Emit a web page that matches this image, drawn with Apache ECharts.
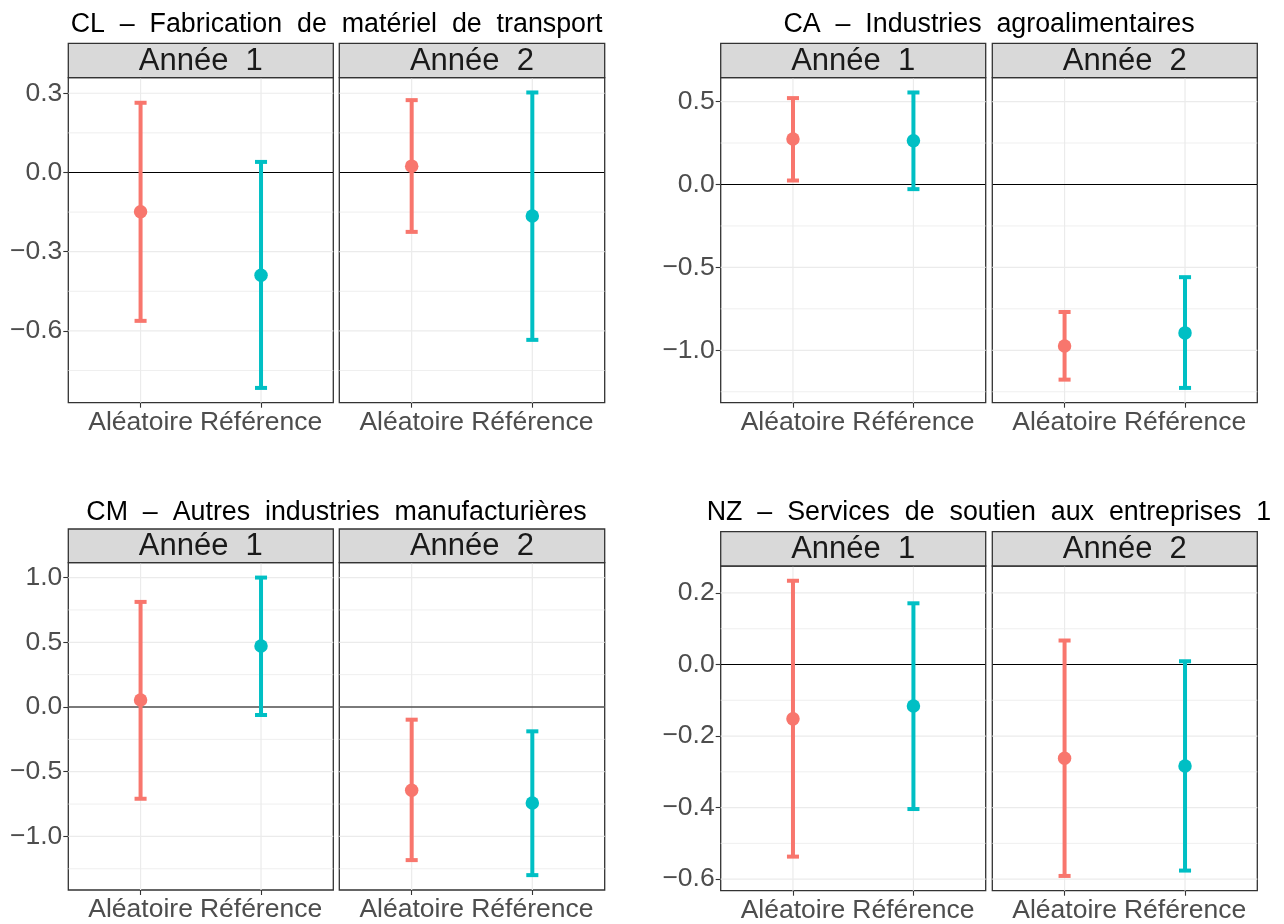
<!DOCTYPE html>
<html>
<head>
<meta charset="utf-8">
<script src="https://cdn.jsdelivr.net/npm/echarts@6/dist/echarts.min.js"></script>
<style>
html,body{margin:0;padding:0;background:#ffffff;}
#chart{width:1284px;height:924px;}
</style>
</head>
<body>
<div id="chart"></div>
<script>
// ---------- data ----------
const categories = ['Aléatoire', 'Référence'];
const years = ['Année 1', 'Année 2'];
const titles = [
  'CL – Fabrication de matériel de transport',
  'CA – Industries agroalimentaires',
  'CM – Autres industries manufacturières',
  'NZ – Services de soutien aux entreprises 1'
];
// order of values: [Année 1 Aléatoire, Année 1 Référence, Année 2 Aléatoire, Année 2 Référence]
const cl_estimate = [-0.149, -0.389, 0.024, -0.165];
const cl_low      = [-0.562, -0.816, -0.225, -0.634];
const cl_high     = [0.264, 0.040, 0.274, 0.303];

const ca_estimate = [0.274, 0.264, -0.974, -0.895];
const ca_low      = [0.024, -0.028, -1.177, -1.227];
const ca_high     = [0.521, 0.555, -0.769, -0.559];

const cm_estimate = [0.054, 0.472, -0.644, -0.742];
const cm_low      = [-0.709, -0.062, -1.183, -1.299];
const cm_high     = [0.812, 1.000, -0.098, -0.188];

const nz_estimate = [-0.152, -0.116, -0.262, -0.284];
const nz_low      = [-0.537, -0.404, -0.591, -0.576];
const nz_high     = [0.234, 0.171, 0.067, 0.009];

const cl_ticks = [-0.6, -0.3, 0.0, 0.3];
const ca_ticks = [-1.0, -0.5, 0.0, 0.5];
const cm_ticks = [-1.0, -0.5, 0.0, 0.5, 1.0];
const nz_ticks = [-0.6, -0.4, -0.2, 0.0, 0.2];

// ---------- layout ----------
const colors = ['#F8766D', '#00BFC4'];
const FONT = '"Liberation Sans", Arial, Helvetica, sans-serif';
const panels = [
  {title: titles[0], est: cl_estimate, low: cl_low, high: cl_high, ticks: cl_ticks,
   tx: 336.5, ty: 25, stripTop: 43.3, top: 77.7, height: 325, lefts: [68.3, 339.3], widths: [265, 265.4]},
  {title: titles[1], est: ca_estimate, low: ca_low, high: ca_high, ticks: ca_ticks,
   tx: 989, ty: 25, stripTop: 43.3, top: 77.7, height: 325, lefts: [720.7, 992.3], widths: [265, 265]},
  {title: titles[2], est: cm_estimate, low: cm_low, high: cm_high, ticks: cm_ticks,
   tx: 336.5, ty: 512.5, stripTop: 529, top: 562.7, height: 327.3, lefts: [68.3, 339.3], widths: [265, 265.4]},
  {title: titles[3], est: nz_estimate, low: nz_low, high: nz_high, ticks: nz_ticks,
   tx: 989, ty: 512.5, stripTop: 531.7, top: 566, height: 324.7, lefts: [720.7, 992.3], widths: [265, 265]}
];

function fmt(v) {
  return v.toFixed(1).replace('-', '\u2212');
}

const grid = [], xAxis = [], yAxis = [], series = [], graphic = [];

panels.forEach((p, pi) => {
  const lo = Math.min(0, ...p.low, ...p.est);
  const hi = Math.max(0, ...p.high, ...p.est);
  const span = hi - lo;
  const ymin = lo - 0.05 * span, ymax = hi + 0.05 * span;
  const step = p.ticks[1] - p.ticks[0];
  const minors = [];
  for (let i = -1; i < p.ticks.length; i++) {
    const m = (i < 0 ? p.ticks[0] - step / 2 : p.ticks[i] + step / 2);
    if (m > ymin && m < ymax) minors.push(m);
  }

  graphic.push({
    type: 'text', x: p.tx, y: p.ty, z: 10,
    style: {text: p.title.replace(/ /g, '  '), font: '26.8px ' + FONT, fill: '#000000',
            align: 'center', verticalAlign: 'middle'}
  });

  [0, 1].forEach(fi => {
    const gi = grid.length;
    const left = p.lefts[fi], w = p.widths[fi];
    grid.push({left: left, top: p.top, width: w, height: p.height, show: true,
               borderColor: '#333333', borderWidth: 1.3, backgroundColor: '#ffffff', containLabel: false});
    xAxis.push({
      type: 'value', gridIndex: gi, min: 0.4, max: 2.6,
      axisLine: {show: false, onZero: false},
      axisTick: {show: true, length: 5, customValues: [1, 2], lineStyle: {color: '#333333', width: 1.1}},
      axisLabel: {show: true, customValues: [1, 2], margin: 6, color: '#4D4D4D', fontSize: 26.5, fontFamily: FONT,
                  formatter: v => categories[Math.round(v) - 1] || ''},
      splitLine: {show: false}
    });
    yAxis.push({
      type: 'value', gridIndex: gi, min: ymin, max: ymax,
      axisLine: {show: false, onZero: false},
      axisTick: {show: fi === 0, length: 5, customValues: p.ticks, lineStyle: {color: '#333333', width: 1.1}},
      axisLabel: {show: fi === 0, customValues: p.ticks, margin: 6, color: '#4D4D4D', fontSize: 26.5, fontFamily: FONT,
                  formatter: v => fmt(v)},
      splitLine: {show: false}
    });

    // grid lines (kind 0 major h, 1 minor h, 2 major v, 3 zero line)
    const gdata = [];
    minors.forEach(m => gdata.push([1.5, m, 1]));
    p.ticks.forEach(t => gdata.push([1.5, t, 0]));
    [1, 2].forEach(c => gdata.push([c, 0, 2]));
    gdata.push([1.5, 0, 3]);
    series.push({
      type: 'custom', xAxisIndex: gi, yAxisIndex: gi, z: 1, silent: true, clip: false,
      data: gdata,
      renderItem: (params, api) => {
        const cs = params.coordSys;
        const kind = api.value(2);
        if (kind === 2) {
          const px = api.coord([api.value(0), 0])[0];
          return {type: 'line', shape: {x1: px, y1: cs.y, x2: px, y2: cs.y + cs.height},
                  style: {stroke: '#EBEBEB', lineWidth: 1.2}};
        }
        const py = api.coord([1.5, api.value(1)])[1];
        return {type: 'line', z2: kind === 3 ? 5 : 1,
                shape: {x1: cs.x, y1: py, x2: cs.x + cs.width, y2: py},
                style: {stroke: kind === 3 ? '#000000' : '#EBEBEB',
                        lineWidth: kind === 0 ? 1.2 : (kind === 1 ? 0.8 : 1.2)}};
      }
    });

    // error bars
    const ebData = [0, 1].map(ci => {
      const k = fi * 2 + ci;
      return {value: [ci + 1, p.low[k], p.high[k]], itemStyle: {color: colors[ci]}};
    });
    series.push({
      type: 'custom', xAxisIndex: gi, yAxisIndex: gi, z: 3, silent: true,
      data: ebData,
      encode: {x: 0, y: [1, 2]},
      renderItem: (params, api) => {
        const x = api.value(0);
        const pl = api.coord([x, api.value(1)]);
        const ph = api.coord([x, api.value(2)]);
        const half = api.coord([x + 0.05, 0])[0] - pl[0];
        const col = colors[x - 1];
        const st = {stroke: col, lineWidth: 4, lineCap: 'butt'};
        return {type: 'group', children: [
          {type: 'line', shape: {x1: pl[0], y1: pl[1], x2: ph[0], y2: ph[1]}, style: st},
          {type: 'line', shape: {x1: ph[0] - half, y1: ph[1], x2: ph[0] + half, y2: ph[1]}, style: st},
          {type: 'line', shape: {x1: pl[0] - half, y1: pl[1], x2: pl[0] + half, y2: pl[1]}, style: st}
        ]};
      }
    });

    // points
    series.push({
      type: 'scatter', xAxisIndex: gi, yAxisIndex: gi, z: 4, silent: true,
      symbol: 'circle', symbolSize: 13.5,
      data: [0, 1].map(ci => ({value: [ci + 1, p.est[fi * 2 + ci]], itemStyle: {color: colors[ci], opacity: 1}}))
    });

    // strip
    graphic.push({
      type: 'rect', z: 10,
      shape: {x: left, y: p.stripTop, width: w, height: p.top - p.stripTop},
      style: {fill: '#D9D9D9', stroke: '#333333', lineWidth: 1.3}
    });
    graphic.push({
      type: 'text', z: 11, x: left + w / 2, y: (p.stripTop + p.top) / 2 + 1,
      style: {text: years[fi].replace(' ', '  '), font: '31px ' + FONT, fill: '#1A1A1A',
              align: 'center', verticalAlign: 'middle'}
    });
  });
});

const chart = echarts.init(document.getElementById('chart'), null, {renderer: 'canvas'});
chart.setOption({
  animation: false,
  backgroundColor: '#ffffff',
  grid: grid,
  xAxis: xAxis,
  yAxis: yAxis,
  series: series,
  graphic: graphic
});
</script>
</body>
</html>
